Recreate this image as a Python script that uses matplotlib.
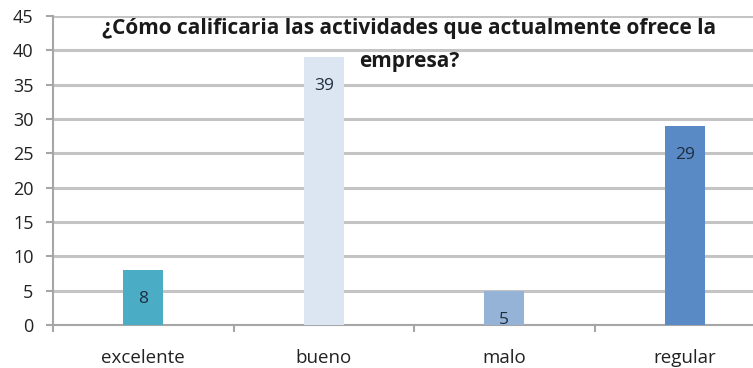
import numpy as np
import matplotlib.pyplot as plt
from matplotlib.transforms import blended_transform_factory

categories = ['excelente', 'bueno', 'malo', 'regular']
counts = [8, 39, 5, 29]
bar_colors = ['#4BACC6', '#DCE6F2', '#95B3D7', '#5A8AC6']
title = '¿Cómo calificaria las actividades que actualmente ofrece la\nempresa?'

plt.rcParams['font.family'] = ['Open Sans', 'DejaVu Sans']

fig = plt.figure(figsize=(7.53, 3.68), dpi=100)
# plot area runs past the right edge of the figure
ax = fig.add_axes([53 / 753, 43 / 368, 722 / 753, 309 / 368])

x = np.arange(len(categories))
bars = ax.bar(x, counts, width=0.22, color=bar_colors, zorder=3)

# value labels just under the top of each bar
for xi, v in zip(x, counts):
    ax.annotate(str(v), (xi, v), xytext=(0, -29), textcoords='offset pixels',
                ha='center', va='center', fontsize=12.5, color='#1F2D3D', zorder=4)

ax.set_xlim(-0.5, len(categories) - 0.5)
ax.set_ylim(0, 45)
ax.set_yticks(range(0, 46, 5))
ax.yaxis.grid(True, color='#C4C4C4', linewidth=2.2, zorder=0)
ax.set_axisbelow(True)

ax.set_xticks(x)
ax.set_xticklabels(categories)
ax.set_xticks(np.arange(-0.5, len(categories), 1), minor=True)
ax.tick_params(axis='x', which='major', length=0, pad=17, labelsize=13.5, labelcolor='#222222')
ax.tick_params(axis='x', which='minor', length=5, color='#A6A6A6', width=1.5)
ax.tick_params(axis='y', length=5, color='#A6A6A6', width=1.5, pad=9, labelsize=13, labelcolor='#222222')

for side in ['top', 'right']:
    ax.spines[side].set_visible(False)
for side in ['left', 'bottom']:
    ax.spines[side].set_color('#A6A6A6')
    ax.spines[side].set_linewidth(1.5)

# title sits inside the plot area, over the top gridlines
trans = blended_transform_factory(ax.transAxes, ax.transData)
ax.text(0.493, 44.7, title, transform=trans,
        ha='center', va='top', fontsize=15, fontweight='bold', color='#1A1A1A',
        linespacing=1.75, zorder=5)

fig.savefig('out.png', dpi=100)
